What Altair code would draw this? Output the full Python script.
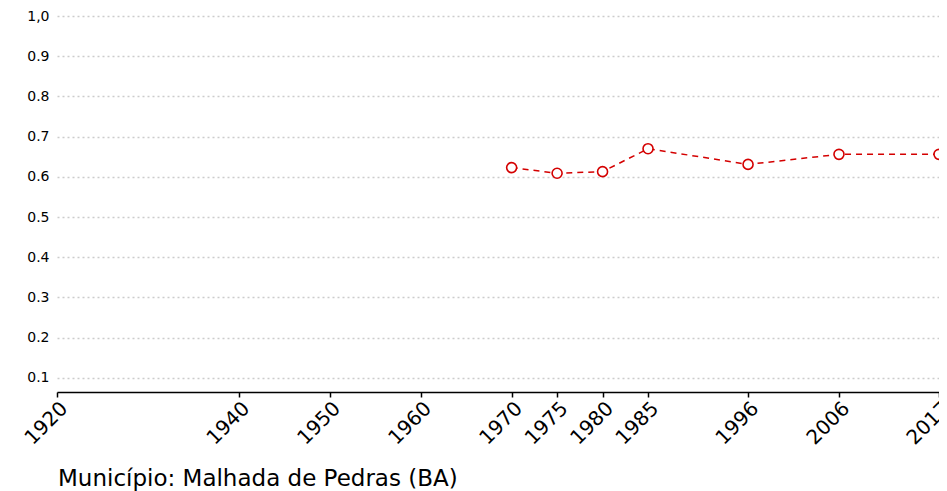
import altair as alt
import pandas as pd

years = [1970, 1975, 1980, 1985, 1996, 2006, 2017]
values = [0.623, 0.609, 0.613, 0.670, 0.631, 0.656, 0.656]
x_ticks = [1920, 1940, 1950, 1960, 1970, 1975, 1980, 1985, 1996, 2006, 2017]
y_ticks = [0.1, 0.2, 0.3, 0.4, 0.5, 0.6, 0.7, 0.8, 0.9, 1.0]
title_text = "Município: Malhada de Pedras (BA)"

df = pd.DataFrame({"ano": years, "valor": values})

RED = "#d40000"
FONT = "DejaVu Sans"

x = alt.X("ano:Q",
          scale=alt.Scale(domain=[1920, 2017], nice=False, zero=False),
          axis=alt.Axis(values=x_ticks, format="d", labelAngle=-45,
                        labelFontSize=20, labelFont=FONT, labelColor="black",
                        domainColor="black", domainWidth=1.5, tickColor="black",
                        tickSize=5, tickWidth=1.5, grid=False, title=None,
                        labelPadding=1, labelOverlap=False, labelFlush=False))
y = alt.Y("valor:Q",
          scale=alt.Scale(domain=[0.065, 1.0], nice=False, zero=False),
          axis=alt.Axis(values=y_ticks, labelExpr="datum.value == 1 ? '1,0' : format(datum.value, '.1f')",
                        labelFontSize=14, labelFont=FONT, labelColor="black",
                        domain=False, ticks=False, labelPadding=8,
                        grid=True, gridColor="#cccccc", gridDash=[2, 3], gridWidth=1.3,
                        title=None))

line = alt.Chart(df).mark_line(color=RED, strokeDash=[6, 5], strokeWidth=1.5).encode(x=x, y=y)
pts = alt.Chart(df).mark_point(shape="circle", size=100, filled=True, fill="white",
                               stroke=RED, strokeWidth=1.6, opacity=1).encode(x=x, y=y)

chart = (line + pts).properties(
    width=882, height=376,
    autosize=alt.AutoSizeParams(type="none"),
    padding={"left": 49, "top": 8, "right": 0, "bottom": 102},
    title=alt.TitleParams(title_text, orient="bottom", anchor="start", frame="group", dx=1,
                          fontSize=23, font=FONT, fontWeight="normal", color="black",
                          offset=20),
).configure_view(stroke=None)

chart.save("out.html", embed_options={"renderer": "svg", "actions": False})
